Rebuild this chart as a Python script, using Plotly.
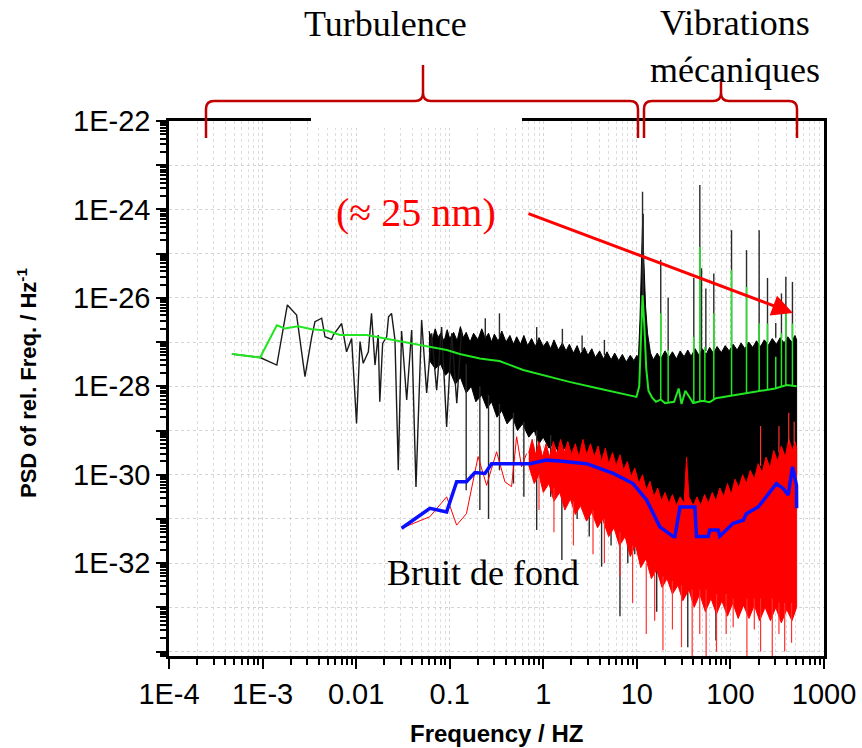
import numpy as np
import plotly.graph_objects as go

# ------------------------------------------------------------------
# DATA  (frequency in Hz, PSD given as log10 values)
# ------------------------------------------------------------------
# black (signal) - individually resolved low-frequency part
black_lf_freq = [4.7e-4, 9.4e-4, 1.42e-3, 1.84e-3, 2.31e-3, 2.84e-3, 3.35e-3, 3.63e-3,
                 4.28e-3, 4.65e-3, 5.47e-3, 5.7e-3, 7.0e-3, 7.9e-3, 8.95e-3, 1.01e-2,
                 1.10e-2, 1.19e-2, 1.35e-2, 1.46e-2, 1.59e-2, 1.72e-2, 1.79e-2, 1.92e-2,
                 2.12e-2, 2.22e-2, 2.39e-2, 2.6e-2, 2.82e-2, 3.06e-2, 3.47e-2, 3.92e-2,
                 4.36e-2, 5.01e-2, 5.67e-2, 6.41e-2, 7.25e-2, 8.19e-2, 9.27e-2, 0.105,
                 0.119, 0.134]
black_lf_log = [-27.27, -27.35, -27.52, -26.16, -26.39, -27.78, -26.88, -26.54,
                -26.46, -26.88, -26.94, -26.84, -26.58, -27.22, -26.92, -28.84,
                -26.99, -27.48, -27.22, -26.35, -27.52, -26.84, -28.35, -27.03,
                -26.88, -26.43, -26.35, -26.95, -29.9, -26.75, -28.31, -26.73,
                -30.28, -26.50, -28.15, -26.80, -28.09, -26.66, -28.92, -26.80,
                -28.38, -26.73]

# black dense band: upper edge
black_up_freq = [0.06, 0.065, 0.07, 0.075, 0.08, 0.087, 0.094, 0.1, 0.11, 0.12, 0.13,
                 0.14, 0.15, 0.165, 0.18, 0.2, 0.22, 0.24, 0.26, 0.28, 0.3, 0.33, 0.36,
                 0.4, 0.44, 0.48, 0.52, 0.57, 0.62, 0.68, 0.75, 0.82, 0.9, 1.0, 1.1, 1.2,
                 1.3, 1.45, 1.6, 1.75, 1.9, 2.1, 2.3, 2.5, 2.75, 3.0, 3.3, 3.6, 4.0, 4.4,
                 4.8, 5.3, 5.8, 6.4, 7.0, 7.7, 8.5, 9.3, 10.0, 10.4,
                 10.8, 11.2, 11.5, 11.9, 12.4, 13.0,
                 14.0, 15.0, 16.5, 18.0, 20.0, 22.0, 24.0, 26.5, 29.0, 32.0, 35.0, 38.0,
                 42.0, 46.0, 50.0, 55.0, 60.0, 66.0, 72.0, 80.0, 88.0, 97.0, 107.0,
                 118.0, 130.0, 143.0, 157.0, 173.0, 190.0, 210.0, 230.0, 255.0, 280.0,
                 310.0, 340.0, 375.0, 410.0, 450.0, 490.0, 510.0]
black_up_log = [-26.75, -26.95, -26.7, -26.9, -26.8, -26.98, -26.72, -26.92, -26.78,
                -26.97, -26.65, -26.9, -26.78, -27.0, -26.8, -26.95, -26.7, -26.92,
                -26.8, -27.0, -26.82, -26.98, -26.75, -27.0, -26.85, -27.05, -26.88,
                -27.05, -26.85, -27.08, -26.92, -27.1, -26.9, -27.1, -26.98, -27.15,
                -26.95, -27.18, -27.02, -27.2, -27.05, -27.25, -27.08, -27.28, -27.12,
                -27.3, -27.15, -27.35, -27.2, -27.38, -27.22, -27.4, -27.25, -27.42,
                -27.28, -27.45, -27.3, -27.42, -27.3, -27.35,
                -26.5, -25.0, -24.3, -25.2, -26.2, -26.8,
                -27.25, -27.4, -27.25, -27.38, -27.2, -27.35, -27.22, -27.38, -27.2,
                -27.33, -27.18, -27.32, -27.15, -27.3, -27.15, -27.28, -27.12, -27.26,
                -27.1, -27.24, -27.08, -27.2, -27.05, -27.18, -27.02, -27.15, -27.0,
                -27.12, -26.97, -27.1, -26.95, -27.07, -26.92, -27.05, -26.9, -27.02,
                -26.88, -27.0, -26.85, -26.95]
# black dense band: lower edge
black_lo_freq = [0.06, 0.07, 0.08, 0.09, 0.1, 0.115, 0.13, 0.15, 0.17, 0.19, 0.22, 0.25,
                 0.28, 0.32, 0.36, 0.41, 0.47, 0.53, 0.6, 0.7, 0.8, 0.9, 1.0, 1.15, 1.3,
                 1.5, 1.7, 2.0, 2.3, 2.7, 3.1, 3.6, 4.2, 5.0, 5.8, 6.8, 8.0, 9.2, 10.5,
                 12.0, 15.0, 20.0, 30.0, 50.0, 100.0, 200.0, 510.0]
black_lo_log = [-27.4, -27.6, -27.5, -27.75, -27.65, -27.95, -27.8, -28.15, -28.0,
                -28.35, -28.2, -28.5, -28.35, -28.7, -28.55, -28.85, -28.7, -29.0,
                -28.85, -29.15, -29.0, -29.3, -29.15, -29.4, -29.3, -29.55, -29.4,
                -29.7, -29.55, -29.85, -29.7, -30.0, -29.85, -30.2, -30.05, -30.4,
                -30.25, -30.6, -30.45, -30.8, -30.7, -30.8, -30.9, -30.7, -30.6,
                -30.3, -30.0]
# black isolated spikes (frequency, from, to)
black_spk_freq = [0.15, 0.21, 0.26, 0.34, 0.48, 0.62, 0.85, 1.2, 1.58, 2.3, 3.1, 4.2,
                  5.3, 6.6, 8.0, 9.5, 16.3, 26.0, 35.0, 50.0, 70.0, 120.0, 250.0, 400.0,
                  0.24, 0.34, 0.85, 1.6, 2.6, 4.5,
                  11.5, 11.7, 18.0, 21.6, 40.6, 47.1, 49.1, 54.6, 66.4, 102.8, 148.6,
                  202.8, 249.0, 305.0, 351.0, 391.0, 460.0]
black_spk_from = [-27.5, -28.0, -28.2, -28.4, -28.6, -28.8, -29.0, -29.1, -29.3, -29.5,
                  -29.7, -29.8, -30.0, -30.2, -30.3, -30.4, -30.7, -30.8, -30.8, -30.7,
                  -30.6, -30.5, -30.3, -30.1,
                  -26.9, -26.9, -27.0, -27.1, -27.2, -27.3,
                  -26.0, -26.0, -27.2, -27.2, -27.2, -27.2, -27.2, -27.2, -27.2, -27.1,
                  -27.1, -27.0, -27.0, -26.9, -26.9, -26.9, -26.9]
black_spk_to = [-30.35, -30.8, -31.0, -29.9, -30.2, -30.5, -31.25, -30.5, -31.93, -31.0,
                -31.4, -32.08, -31.6, -33.2, -32.0, -31.8, -33.1, -32.4, -33.9, -32.6,
                -33.75, -32.8, -33.0, -32.5,
                -26.46, -26.35, -26.66, -26.7, -26.85, -26.95,
                -23.6, -24.1, -25.14, -26.0, -25.55, -23.45, -25.33, -25.79, -25.45,
                -24.47, -24.92, -24.47, -25.55, -26.57, -25.9, -25.52, -25.64]

# green (smoothed signal)
green_freq = [4.7e-4, 9.4e-4, 1.42e-3, 1.73e-3, 2.40e-3, 3.35e-3, 4.84e-3, 6.7e-3,
              1.29e-2, 2.49e-2, 5.66e-2, 9.3e-2, 0.128, 0.21, 0.29, 0.34, 0.61, 1.1,
              1.9, 3.7, 5.6, 9.9, 10.6, 11.0, 11.5, 12.0, 12.6, 13.3, 14.5, 16.0, 18.0,
              20.0, 25.0, 28.0, 30.0, 33.0, 40.0, 50.0, 60.0, 70.0, 100.0, 150.0,
              200.0, 300.0, 400.0, 450.0, 510.0]
green_log = [-27.27, -27.35, -26.62, -26.69, -26.64, -26.71, -26.74, -26.84,
             -26.84, -26.95, -27.1, -27.18, -27.27, -27.37, -27.41, -27.43, -27.63,
             -27.77, -27.90, -28.04, -28.13, -28.24, -28.0, -26.8, -25.94, -26.6,
             -27.6, -28.1, -28.25, -28.35, -28.3, -28.38, -28.35, -28.05, -28.4,
             -28.1, -28.38, -28.33, -28.36, -28.27, -28.22, -28.16, -28.12, -28.05,
             -27.97, -27.99, -28.0]
green_spk_freq = [18.0, 21.6, 40.6, 47.1, 53.3, 66.4, 102.8, 148.6, 202.8, 249.0,
                  305.0, 351.0, 391.0, 460.0]
green_spk_from = [-28.3, -28.35, -28.38, -28.35, -28.33, -28.3, -28.22, -28.16, -28.12,
                  -28.08, -28.05, -28.0, -27.98, -27.97]
green_spk_to = [-26.35, -27.18, -26.88, -24.85, -27.11, -26.35, -25.37, -25.75, -26.58,
                -26.58, -27.33, -26.80, -26.35, -26.58]

# red (background noise) - resolved low-frequency part
red_lf_freq = [0.0306, 0.0614, 0.0927, 0.1186, 0.151, 0.201, 0.248, 0.317, 0.389,
               0.458, 0.519, 0.586, 0.664]
red_lf_log = [-31.21, -30.95, -30.50, -31.14, -30.88, -29.59, -30.24, -29.48, -30.16,
              -30.27, -29.14, -29.82, -29.52]
# red dense band
red_up_freq = [0.7, 0.76, 0.83, 0.9, 0.98, 1.07, 1.17, 1.28, 1.4, 1.53, 1.67, 1.83, 2.0,
               2.2, 2.4, 2.65, 2.9, 3.2, 3.5, 3.85, 4.2, 4.6, 5.0, 5.5, 6.0, 6.6, 7.2,
               7.9, 8.7, 9.5, 10.5, 11.5, 12.6, 13.8, 15.2, 16.7, 18.3, 20.0, 22.0,
               24.0, 26.5, 29.0, 32.0, 34.0, 36.0, 40.0, 44.0, 48.0, 53.0, 58.0, 64.0,
               70.0, 77.0, 85.0, 93.0, 102.0, 112.0, 123.0, 135.0, 148.0, 163.0, 180.0,
               198.0, 218.0, 240.0, 265.0, 290.0, 320.0, 350.0, 385.0, 420.0, 460.0,
               490.0, 510.0]
red_up_log = [-29.5, -29.2, -29.55, -29.25, -29.6, -29.3, -29.6, -29.25, -29.55, -29.2,
              -29.5, -29.25, -29.55, -29.3, -29.6, -29.2, -29.55, -29.3, -29.6, -29.35,
              -29.7, -29.4, -29.75, -29.5, -29.8, -29.55, -29.9, -29.7, -30.05, -29.85,
              -30.2, -30.0, -30.35, -30.15, -30.5, -30.3, -30.6, -30.4, -30.65, -30.45,
              -30.7, -30.5, -30.65, -29.6, -30.5, -30.7, -30.5, -30.7, -30.45, -30.65,
              -30.4, -30.6, -30.3, -30.5, -30.2, -30.45, -30.1, -30.3, -30.0, -30.2,
              -29.9, -30.1, -29.75, -29.95, -29.6, -29.85, -29.45, -29.7, -29.35,
              -29.6, -29.2, -29.45, -29.25, -29.4]
red_lo_freq = [0.7, 0.8, 0.9, 1.0, 1.15, 1.3, 1.5, 1.7, 1.95, 2.2, 2.5, 2.9, 3.3, 3.8,
               4.3, 5.0, 5.7, 6.5, 7.5, 8.5, 9.7, 11.0, 12.5, 14.3, 16.3, 18.6, 21.0,
               24.0, 27.5, 31.0, 36.0, 41.0, 47.0, 54.0, 62.0, 71.0, 81.0, 93.0, 106.0,
               121.0, 138.0, 158.0, 180.0, 205.0, 235.0, 268.0, 305.0, 350.0, 400.0,
               455.0, 510.0]
red_lo_log = [-29.8, -30.2, -30.0, -30.4, -30.2, -30.6, -30.4, -30.8, -30.55, -30.9,
              -30.7, -31.05, -30.85, -31.2, -31.0, -31.4, -31.2, -31.6, -31.4, -31.85,
              -31.6, -32.1, -31.9, -32.35, -32.15, -32.55, -32.35, -32.7, -32.5,
              -32.85, -32.6, -33.0, -32.7, -33.1, -32.8, -33.15, -32.85, -33.2, -32.9,
              -33.25, -32.95, -33.25, -32.95, -33.3, -33.0, -33.3, -33.0, -33.35,
              -33.05, -33.3, -33.0]
red_spk_freq = [0.9, 1.3, 2.1, 3.4, 4.5, 6.6, 9.0, 12.6, 15.5, 19.0, 24.0, 30.0, 39.0,
                47.0, 55.0, 71.0, 90.0, 107.0, 150.0, 180.0, 210.0, 280.0, 330.0,
                380.0, 450.0, 210.0, 330.0, 420.0, 480.0]
red_spk_from = [-30.0, -30.3, -30.6, -30.8, -31.0, -31.3, -31.6, -32.0, -32.2, -32.3,
                -32.4, -32.5, -32.6, -32.6, -32.6, -32.7, -32.7, -32.8, -32.8, -32.8,
                -32.8, -32.8, -32.9, -32.9, -32.9, -29.8, -29.5, -29.3, -29.3]
red_spk_to = [-30.8, -31.3, -31.6, -31.8, -32.0, -32.3, -32.9, -33.6, -33.3, -33.97,
              -33.5, -33.9, -34.3, -33.6, -34.3, -34.0, -33.6, -33.45, -34.2, -33.5,
              -34.0, -34.2, -33.6, -34.0, -33.8, -28.9, -28.9, -28.6, -28.8]

# blue (smoothed background noise)
blue_freq = [0.0306, 0.0614, 0.0927, 0.1186, 0.151, 0.186, 0.238, 0.28, 0.72, 1.08,
             1.5, 2.9, 5.6, 9.1, 12.7, 17.6, 24.5, 25.5, 28.9, 41.7, 43.4, 57.8, 60.3,
             74.0, 77.0, 107.0, 137.0, 148.0, 198.0, 243.0, 310.0, 366.0, 414.0, 461.0,
             508.0, 510.0]
blue_log = [-31.21, -30.76, -30.84, -30.16, -30.16, -29.95, -29.97, -29.75, -29.75,
            -29.67, -29.69, -29.75, -29.97, -30.2, -30.57, -31.18, -31.40, -31.40,
            -30.73, -30.73, -31.40, -31.40, -31.25, -31.25, -31.39, -31.10, -31.03,
            -30.88, -30.73, -30.50, -30.20, -30.31, -30.46, -29.82, -30.24, -30.76]

# axis ticks
x_tick_vals = [1e-4, 1e-3, 1e-2, 1e-1, 1, 10, 100, 1000]
x_tick_text = ["1E-4", "1E-3", "0.01", "0.1", "1", "10", "100", "1000"]
y_tick_exp = [-22, -23, -24, -25, -26, -27, -28, -29, -30, -31, -32, -33, -34]
y_tick_text = ["1E-22", "", "1E-24", "", "1E-26", "", "1E-28", "", "1E-30", "", "1E-32", "", ""]

# ------------------------------------------------------------------
def pw(v):
    return [10.0 ** a for a in v]


def spikes(freqs, lo, hi):
    xs, ys = [], []
    for f, a, b in zip(freqs, lo, hi):
        xs += [f, f, None]
        ys += [10.0 ** a, 10.0 ** b, None]
    return xs, ys


def band(fu, lu, fl, ll):
    return list(fu) + list(fl)[::-1], pw(list(lu) + list(ll)[::-1])


BLACK, GREEN, RED, BLUE = "#000000", "#22e622", "#ff0000", "#0a10ff"

fig = go.Figure()

bx, by = band(black_up_freq, black_up_log, black_lo_freq, black_lo_log)
fig.add_trace(go.Scatter(x=bx, y=by, mode="lines", fill="toself", fillcolor=BLACK,
                         line=dict(color=BLACK, width=1), hoverinfo="skip"))
fig.add_trace(go.Scatter(x=black_lf_freq, y=pw(black_lf_log), mode="lines",
                         line=dict(color="#1a1a1a", width=1.4)))
sx, sy = spikes(black_spk_freq, black_spk_from, black_spk_to)
fig.add_trace(go.Scatter(x=sx, y=sy, mode="lines", line=dict(color="#2a2a2a", width=1.4)))

fig.add_trace(go.Scatter(x=green_freq, y=pw(green_log), mode="lines",
                         line=dict(color=GREEN, width=2)))
sx, sy = spikes(green_spk_freq, green_spk_from, green_spk_to)
fig.add_trace(go.Scatter(x=sx, y=sy, mode="lines", line=dict(color=GREEN, width=1.5)))

rx, ry = band(red_up_freq, red_up_log, red_lo_freq, red_lo_log)
fig.add_trace(go.Scatter(x=rx, y=ry, mode="lines", fill="toself", fillcolor=RED,
                         line=dict(color=RED, width=1), hoverinfo="skip"))
fig.add_trace(go.Scatter(x=red_lf_freq, y=pw(red_lf_log), mode="lines",
                         line=dict(color=RED, width=1)))
sx, sy = spikes(red_spk_freq, red_spk_from, red_spk_to)
fig.add_trace(go.Scatter(x=sx, y=sy, mode="lines", line=dict(color="#ff3030", width=1.2)))

fig.add_trace(go.Scatter(x=blue_freq, y=pw(blue_log), mode="lines",
                         line=dict(color=BLUE, width=3.5)))

# ------------------------------------------------------------------
L, R, T, B, W, H = 169, 824, 121, 656, 862, 748


def px(x):
    return (x - L) / (R - L)


def py(y):
    return (B - y) / (B - T)


def brace(xl, xr, xp, ybar, ytop, yend, r=8):
    pts = [("M", xl, yend), ("L", xl, ybar + r), ("Q", xl, ybar, xl + r, ybar),
           ("L", xp - r, ybar), ("Q", xp, ybar, xp, ybar - r), ("L", xp, ytop),
           ("M", xp, ybar - r), ("Q", xp, ybar, xp + r, ybar), ("L", xr - r, ybar),
           ("Q", xr, ybar, xr, ybar + r), ("L", xr, yend)]
    s = ""
    for p in pts:
        if p[0] == "Q":
            s += f"Q{px(p[1]):.5f},{py(p[2]):.5f} {px(p[3]):.5f},{py(p[4]):.5f} "
        else:
            s += f"{p[0]}{px(p[1]):.5f},{py(p[2]):.5f} "
    return s.strip()


shapes = [
    dict(type="rect", xref="paper", yref="paper", x0=px(311), x1=px(522), y0=py(128),
         y1=py(115), fillcolor="white", line=dict(width=0), layer="above"),
    dict(type="path", xref="paper", yref="paper", path=brace(206, 638, 423, 101, 65, 138),
         line=dict(color="#c00000", width=2.5), layer="above"),
    dict(type="path", xref="paper", yref="paper", path=brace(644, 797, 721, 101, 79, 138),
         line=dict(color="#c00000", width=2.5), layer="above"),
]

serif = "Liberation Serif, Times New Roman, serif"
sans = "Liberation Sans, Arial, sans-serif"


def label(x, y, text, size, color="black", family=serif, **kw):
    return dict(x=px(x), y=py(y), xref="paper", yref="paper", text=text,
                showarrow=False, xanchor="center", yanchor="middle",
                font=dict(family=family, size=size, color=color), **kw)


annotations = [
    label(385, 24, "Turbulence", 36),
    label(735, 46, "Vibrations<br>mécaniques", 36),
    label(416, 212, "(≈ 25 nm)", 40, color="red"),
    label(483, 573, "Bruit de fond", 36),
    label(496.5, 733, "<b>Frequency / HZ</b>", 24, family=sans),
    label(27, 383, "<b>PSD of rel. Freq. / Hz<sup>-1</sup></b>", 22, family=sans,
          textangle=-90),
    dict(x=px(793), y=py(313), xref="paper", yref="paper", text="", showarrow=True,
         ax=527 - 793, ay=213 - 313, arrowcolor="red", arrowwidth=3, arrowhead=2,
         arrowsize=1.4, standoff=0),
]

x_minor = [m * 10.0 ** e for e in range(-4, 3) for m in range(2, 10)]
y_minor = [m * 10.0 ** e for e in range(-35, -22) for m in range(2, 10)]

fig.update_layout(
    width=W, height=H, margin=dict(l=L, r=W - R, t=T, b=H - B, autoexpand=False),
    paper_bgcolor="white", plot_bgcolor="white", showlegend=False,
    shapes=shapes, annotations=annotations,
    xaxis=dict(type="log", range=[-4, 3], tickvals=x_tick_vals, ticktext=x_tick_text,
               automargin=False,
               ticks="outside", ticklen=10, tickwidth=2, tickcolor="black",
               showline=True, linewidth=2.5, linecolor="black", mirror=True,
               showgrid=True, gridcolor="#d4d4d4", gridwidth=1, griddash="dot",
               zeroline=False,
               tickfont=dict(family=sans, size=29, color="black"),
               minor=dict(tickvals=x_minor, ticks="outside", ticklen=6, tickwidth=1.5,
                          tickcolor="black", showgrid=True, gridcolor="#dddddd",
                          griddash="dot", gridwidth=1)),
    yaxis=dict(type="log", range=[-34.1, -22], tickvals=[10.0 ** e for e in y_tick_exp],
               ticktext=y_tick_text, automargin=False,
               ticks="outside", ticklen=10, tickwidth=2,
               tickcolor="black", showline=True, linewidth=2.5, linecolor="black",
               mirror=True, showgrid=True, gridcolor="#d4d4d4", gridwidth=1,
               griddash="dot", zeroline=False,
               tickfont=dict(family=sans, size=29, color="black"),
               minor=dict(tickvals=y_minor, ticks="outside", ticklen=6, tickwidth=1.5,
                          tickcolor="black", showgrid=False)),
)

fig.write_html("out.html", config={"displayModeBar": False},
               post_script="document.body.style.margin='0';"
                           "document.body.style.overflow='hidden';")
